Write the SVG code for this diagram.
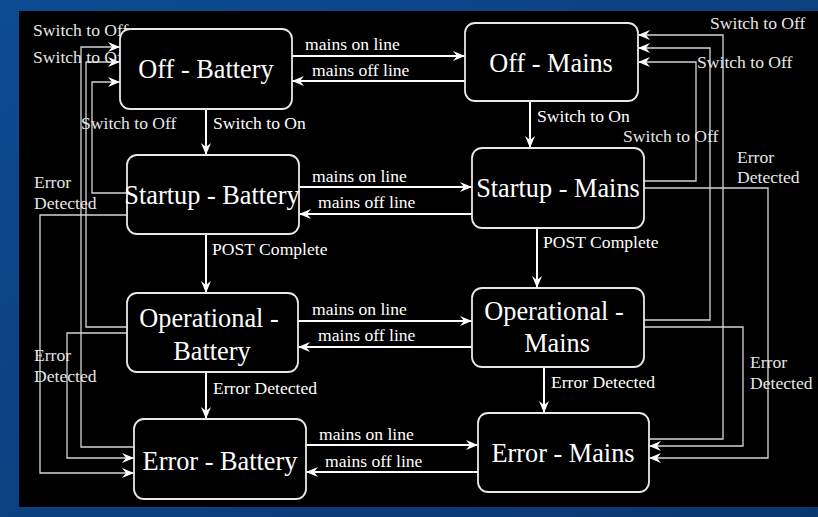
<svg xmlns="http://www.w3.org/2000/svg" width="818" height="517" viewBox="0 0 818 517">
<defs>
<linearGradient id="bg" x1="0" y1="0" x2="1" y2="1">
<stop offset="0" stop-color="#0d4b92"/>
<stop offset="1" stop-color="#0a3670"/>
</linearGradient>
<marker id="ah" viewBox="0 0 12 10" refX="12" refY="5" markerWidth="12" markerHeight="10" markerUnits="userSpaceOnUse" orient="auto">
<path d="M0,0 L12,5 L0,10 L4,5 Z" fill="#ffffff"/>
</marker>
</defs>
<style>
text{font-family:'Liberation Serif','Times New Roman','DejaVu Serif',serif}
.node rect{fill:#000;stroke:#e8e8e8;stroke-width:1.8}
.node text{font-size:26.3px;fill:#fff;text-anchor:middle}
.main{fill:none;stroke:#fff;stroke-width:2;marker-end:url(#ah)}
.routea{fill:none;stroke:#d4d4d4;stroke-width:1.3;marker-end:url(#ah)}
.lbl{font-size:17.6px;fill:#fff}
.slbl{font-size:17.6px;fill:#e6e6e6}
</style>
<rect x="0" y="0" width="818" height="517" fill="url(#bg)"/>
<rect x="19" y="11" width="799" height="496" fill="#000"/>

<g id="connectors">
<path class="main" d="M292,56 H465"/>
<path class="main" d="M465,81 H292"/>
<path class="main" d="M299,187 H472"/>
<path class="main" d="M472,214 H299"/>
<path class="main" d="M298,321 H472"/>
<path class="main" d="M472,347 H298"/>
<path class="main" d="M306,445 H478"/>
<path class="main" d="M478,472 H306"/>
<path class="main" d="M206,109 V155"/>
<path class="main" d="M206,234 V293"/>
<path class="main" d="M206,372 V419"/>
<path class="main" d="M530,101 V148"/>
<path class="main" d="M537,228 V288"/>
<path class="main" d="M544,367 V413"/>
<path class="routea" d="M134,447 H81 V47 H120"/>
<path class="routea" d="M127,327 H86 V62 H120"/>
<path class="routea" d="M127,193 H92 V82 H120"/>
<path class="routea" d="M127,215 H40 V473 H134"/>
<path class="routea" d="M127,333 H67 V458 H134"/>
<path class="routea" d="M649,439 H723 V35 H638"/>
<path class="routea" d="M644,320 H710 V48 H638"/>
<path class="routea" d="M644,181 H696 V62 H638"/>
<path class="routea" d="M644,188 H768 V458 H649"/>
<path class="routea" d="M644,327 H743 V446 H649"/>

<text class="lbl" x="305" y="50">mains on line</text>
<text class="lbl" x="312" y="76">mains off line</text>
<text class="lbl" x="312" y="182">mains on line</text>
<text class="lbl" x="318" y="208">mains off line</text>
<text class="lbl" x="312" y="315">mains on line</text>
<text class="lbl" x="318" y="341">mains off line</text>
<text class="lbl" x="319" y="440">mains on line</text>
<text class="lbl" x="325" y="467">mains off line</text>
<text class="lbl" x="213" y="129">Switch to On</text>
<text class="lbl" x="537" y="122">Switch to On</text>
<text class="lbl" x="212" y="255">POST Complete</text>
<text class="lbl" x="543" y="248">POST Complete</text>
<text class="lbl" x="213" y="394">Error Detected</text>
<text class="lbl" x="551" y="388">Error Detected</text>
<text class="slbl" x="33" y="36">Switch to Off</text>
<text class="slbl" x="33" y="63">Switch to Off</text>
<text class="slbl" x="81" y="129">Switch to Off</text>
<text class="slbl" x="710" y="29">Switch to Off</text>
<text class="slbl" x="697" y="68">Switch to Off</text>
<text class="slbl" x="623" y="142">Switch to Off</text>
<text class="slbl" x="34" y="188">Error</text>
<text class="slbl" x="34" y="209">Detected</text>
<text class="slbl" x="34" y="361">Error</text>
<text class="slbl" x="34" y="382">Detected</text>
<text class="slbl" x="737" y="163">Error</text>
<text class="slbl" x="737" y="183">Detected</text>
<text class="slbl" x="750" y="368">Error</text>
<text class="slbl" x="750" y="389">Detected</text>
</g>

<g id="off-battery" class="node"><rect x="120" y="29" width="172" height="80" rx="10"/><text x="206" y="78">Off - Battery</text></g>
<g id="off-mains" class="node"><rect x="465" y="23" width="173" height="78" rx="10"/><text x="551" y="72">Off - Mains</text></g>
<g id="startup-battery" class="node"><rect x="127" y="155" width="172" height="79" rx="10"/><text x="212" y="204">Startup - Battery</text></g>
<g id="startup-mains" class="node"><rect x="472" y="148" width="172" height="80" rx="10"/><text x="558" y="197">Startup - Mains</text></g>
<g id="operational-battery" class="node"><rect x="127" y="293" width="171" height="79" rx="10"/><text x="209" y="327">Operational -</text><text x="212" y="360">Battery</text></g>
<g id="operational-mains" class="node"><rect x="472" y="288" width="172" height="79" rx="10"/><text x="554" y="320">Operational -</text><text x="557" y="352">Mains</text></g>
<g id="error-battery" class="node"><rect x="134" y="419" width="172" height="80" rx="10"/><text x="220" y="470">Error - Battery</text></g>
<g id="error-mains" class="node"><rect x="478" y="413" width="171" height="79" rx="10"/><text x="563" y="462">Error - Mains</text></g>
</svg>
